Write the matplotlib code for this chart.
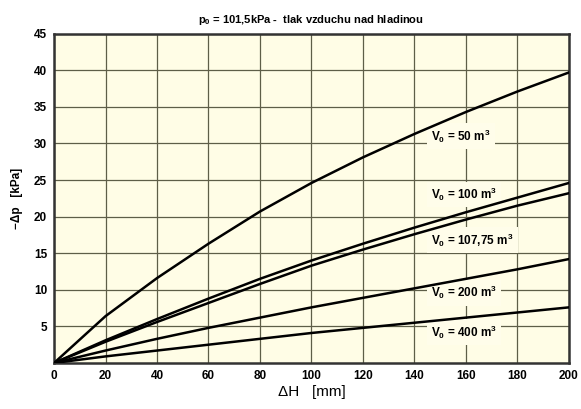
import matplotlib.pyplot as plt

# -dp [kPa] v zavislosti na dH [mm]
dH = [0, 20, 40, 60, 80, 100, 120, 140, 160, 180, 200]
dp_50 = [0, 6.4, 11.6, 16.3, 20.7, 24.6, 28.1, 31.3, 34.3, 37.1, 39.7]
dp_100 = [0, 3.1, 6.0, 8.8, 11.5, 14.0, 16.3, 18.5, 20.6, 22.6, 24.6]
dp_107 = [0, 2.9, 5.6, 8.2, 10.8, 13.3, 15.5, 17.6, 19.6, 21.5, 23.2]
dp_200 = [0, 1.7, 3.3, 4.8, 6.2, 7.6, 8.9, 10.2, 11.5, 12.8, 14.2]
dp_400 = [0, 0.9, 1.7, 2.5, 3.3, 4.1, 4.8, 5.5, 6.2, 6.9, 7.6]

krivky = [dp_50, dp_100, dp_107, dp_200, dp_400]
popisky = ["$\\mathbf{V_0}$ = 50 m$^\\mathbf{3}$",
           "$\\mathbf{V_0}$ = 100 m$^\\mathbf{3}$",
           "$\\mathbf{V_0}$ = 107,75 m$^\\mathbf{3}$",
           "$\\mathbf{V_0}$ = 200 m$^\\mathbf{3}$",
           "$\\mathbf{V_0}$ = 400 m$^\\mathbf{3}$"]
popisky_y = [31.0, 23.0, 16.8, 9.6, 4.2]

plt.rcParams['font.family'] = ['Liberation Sans', 'DejaVu Sans']
plt.rcParams['mathtext.fontset'] = 'custom'
plt.rcParams['mathtext.rm'] = 'Liberation Sans:bold'
plt.rcParams['mathtext.bf'] = 'Liberation Sans:bold'
plt.rcParams['mathtext.it'] = 'Liberation Sans:bold'

fig = plt.figure(figsize=(5.81, 4.09), dpi=100)
ax = fig.add_axes([0.093, 0.1125, 0.886, 0.805])
ax.set_facecolor('#fffde6')

for y in krivky:
    ax.plot(dH, y, color='black', lw=1.8, zorder=3, solid_joinstyle='round')

for txt, yy in zip(popisky, popisky_y):
    ax.text(146.5, yy, txt, fontsize=8.5, fontweight='bold', va='center', ha='left', zorder=2,
            bbox=dict(boxstyle='square,pad=0.35', fc='#fffdea', ec='none'))

ax.set_xlim(0, 200)
ax.set_ylim(0, 45)
ax.set_xticks(range(0, 201, 20))
ax.set_yticks(range(5, 46, 5))
ax.grid(True, color='#5e5e48', lw=0.9, zorder=1)
ax.set_axisbelow(True)
ax.tick_params(length=0, labelsize=8.5, pad=5)
for lab in ax.get_xticklabels() + ax.get_yticklabels():
    lab.set_fontweight('bold')
for s in ax.spines.values():
    s.set_linewidth(1.8)
    s.set_color('#333333')

ax.set_xlabel("ΔH   [mm]", fontsize=11, labelpad=2)
ax.set_ylabel("−Δp   [kPa]", fontsize=8.5, fontweight='bold', labelpad=8)
ax.set_title("p$_\\mathbf{0}$ = 101,5kPa -  tlak vzduchu nad hladinou", fontsize=8,
             fontweight='bold', pad=8)

plt.savefig("out.png", dpi=100)
